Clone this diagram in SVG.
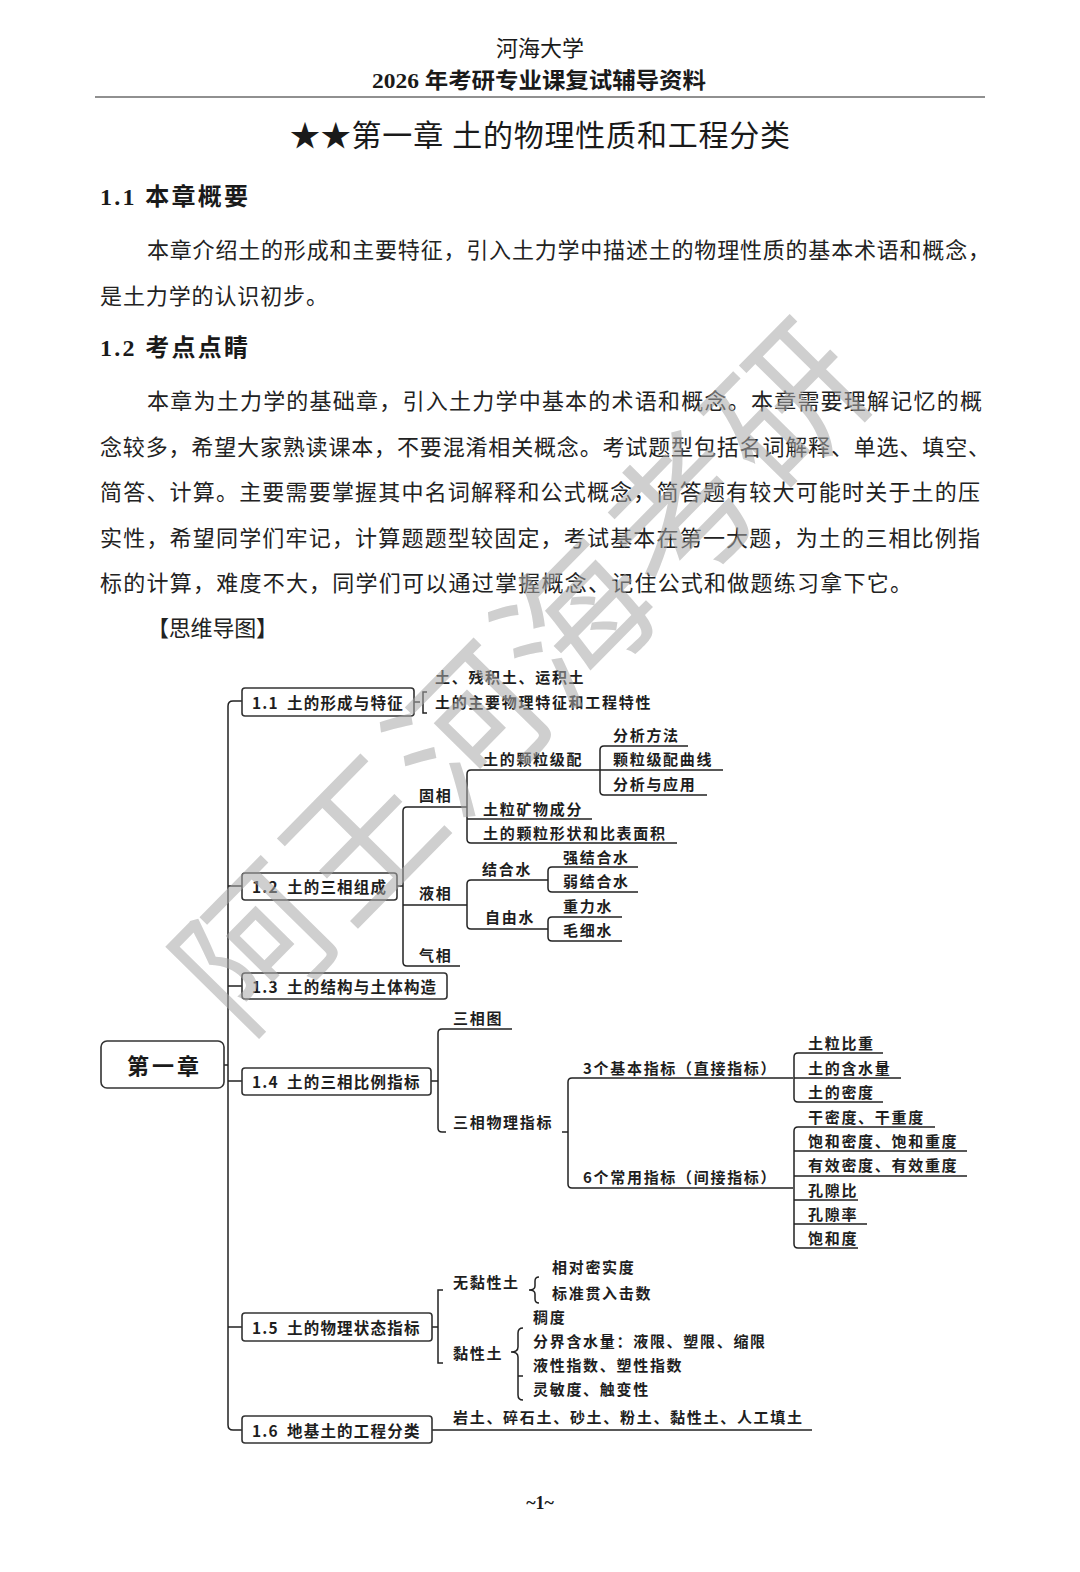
<svg xmlns="http://www.w3.org/2000/svg" width="1080" height="1572" viewBox="0 0 1080 1572">
<style>
text{dominant-baseline:central}
.hd{font-family:"Liberation Serif","Noto Sans CJK SC",serif;fill:#1a1a1a}
.bd{font-family:"Liberation Serif","Noto Sans CJK SC",serif;font-size:22px;fill:#222}
.mm{font-family:"Noto Sans CJK SC",sans-serif;font-size:15px;letter-spacing:1.7px;font-weight:700;fill:#1e1e1e}
.bx{font-family:"Noto Sans CJK SC",sans-serif;font-size:15.5px;letter-spacing:1.2px;font-weight:700;fill:#1e1e1e}
.box{fill:#fff;stroke:#333;stroke-width:1.6}
.ln{fill:none;stroke:#222;stroke-width:1.5}
.wm{font-family:"Noto Sans CJK SC",sans-serif;font-size:150px;font-weight:400;fill:#a8a8a8;opacity:0.55}
</style>
<rect width="1080" height="1572" fill="#fff"/>
<g id="header">
<text class="hd" x="540" y="48" font-size="22" text-anchor="middle">河海大学</text>
<text class="hd" x="372" y="80" font-size="22" font-weight="700" textLength="334" lengthAdjust="spacingAndGlyphs">2026 年考研专业课复试辅导资料</text>
<line x1="95" y1="97" x2="985" y2="97" stroke="#222" stroke-width="1.2"/>
<text class="hd" x="290" y="135" font-size="30" textLength="500">★★第一章  土的物理性质和工程分类</text>
</g>
<g id="section1">
<text class="hd" x="100" y="197" font-size="24" font-weight="700" textLength="148">1.1 本章概要</text>
<text class="bd" x="147" y="250" textLength="843">本章介绍土的形成和主要特征，引入土力学中描述土的物理性质的基本术语和概念，</text>
<text class="bd" x="100" y="296" textLength="228">是土力学的认识初步。</text>
</g>
<g id="section2">
<text class="hd" x="100" y="348" font-size="24" font-weight="700" textLength="148">1.2 考点点睛</text>
<text class="bd" x="147" y="401" textLength="835">本章为土力学的基础章，引入土力学中基本的术语和概念。本章需要理解记忆的概</text>
<text class="bd" x="100" y="447" textLength="890">念较多，希望大家熟读课本，不要混淆相关概念。考试题型包括名词解释、单选、填空、</text>
<text class="bd" x="100" y="492" textLength="880">简答、计算。主要需要掌握其中名词解释和公式概念，简答题有较大可能时关于土的压</text>
<text class="bd" x="100" y="538" textLength="880">实性，希望同学们牢记，计算题题型较固定，考试基本在第一大题，为土的三相比例指</text>
<text class="bd" x="100" y="583" textLength="812">标的计算，难度不大，同学们可以通过掌握概念、记住公式和做题练习拿下它。</text>
<text class="bd" x="147" y="628" font-size="21" textLength="131">【思维导图】</text>
</g>

<g id="connectors">
<path class="ln" d="M224,1065 H228"/>
<path class="ln" d="M242,701 H233 Q228,701 228,706 V1425 Q228,1430 233,1430 H242"/>
<path class="ln" d="M228,886 H242 M228,986 H242 M228,1081 H242 M228,1327 H242"/>
<path class="ln" d="M414,702 H420 M427,692 H423 V713 H427"/>
<path class="ln" d="M397,886 H403"/>
<path class="ln" d="M467,807 H407 Q403,807 403,811 V962 Q403,966 407,966 H460 M403,905 H467"/>
<path class="ln" d="M600,770 H471 Q467,770 467,774 V839 Q467,843 471,843 H677 M467,819 H592"/>
<path class="ln" d="M688,746 H604 Q600,746 600,750 V791 Q600,795 604,795 H707 M600,770 H723"/>
<path class="ln" d="M548,880 H471 Q467,880 467,884 V925 Q467,929 471,929 H548"/>
<path class="ln" d="M638,867 H552 Q548,867 548,871 V888 Q548,892 552,892 H638"/>
<path class="ln" d="M622,917 H552 Q548,917 548,921 V937 Q548,941 552,941 H622"/>
<path class="ln" d="M431,1081 H438"/>
<path class="ln" d="M512,1029 H442 Q438,1029 438,1033 V1128 Q438,1132 442,1132 H446 M562,1132 H568"/>
<path class="ln" d="M793,1078 H572 Q568,1078 568,1082 V1184 Q568,1188 572,1188 H793"/>
<path class="ln" d="M883,1053 H798 Q794,1053 794,1057 V1098 Q794,1102 798,1102 H883 M794,1078 H901"/>
<path class="ln" d="M935,1127 H798 Q794,1127 794,1131 V1244 Q794,1248 798,1248 H858 M794,1151 H967 M794,1176 H967 M794,1200 H858 M794,1224 H867"/>
<path class="ln" d="M432,1327 H438 M443,1290 H438 V1363 H443"/>
<path class="ln" d="M539,1277 Q535,1277 535,1281 V1286 Q535,1290 529,1290 Q535,1290 535,1294 V1299 Q535,1303 539,1303"/>
<path class="ln" d="M523,1328 Q518,1328 518,1333 V1347 Q518,1352 511,1352 Q518,1352 518,1357 V1395 Q518,1400 523,1400 M518,1376 H523"/>
<path class="ln" d="M432,1430 H812"/>
</g>

<g id="n-root">
<rect class="box" x="101" y="1041" width="123" height="47" rx="6"/>
<text x="127" y="1064" font-family="Noto Sans CJK SC,sans-serif" font-size="22" font-weight="700" letter-spacing="3" fill="#1a1a1a">第一章</text>
</g>
<g id="n-1-1">
<rect class="box" x="242" y="688" width="172" height="28" rx="3"/>
<text class="bx" y="702"><tspan x="252">1.1</tspan><tspan x="287">土的形成与特征</tspan></text>
</g>
<g id="n-1-2">
<rect class="box" x="242" y="873" width="155" height="27" rx="3"/>
<text class="bx" y="886"><tspan x="252">1.2</tspan><tspan x="287">土的三相组成</tspan></text>
</g>
<g id="n-1-3">
<rect class="box" x="242" y="973" width="205" height="26" rx="3"/>
<text class="bx" y="986"><tspan x="252">1.3</tspan><tspan x="287">土的结构与土体构造</tspan></text>
</g>
<g id="n-1-4">
<rect class="box" x="242" y="1068" width="189" height="27" rx="3"/>
<text class="bx" y="1081"><tspan x="252">1.4</tspan><tspan x="287">土的三相比例指标</tspan></text>
</g>
<g id="n-1-5">
<rect class="box" x="242" y="1313" width="190" height="28" rx="3"/>
<text class="bx" y="1327"><tspan x="252">1.5</tspan><tspan x="287">土的物理状态指标</tspan></text>
</g>
<g id="n-1-6">
<rect class="box" x="242" y="1416" width="190" height="27" rx="3"/>
<text class="bx" y="1430"><tspan x="252">1.6</tspan><tspan x="287">地基土的工程分类</tspan></text>
</g>

<g id="n-1-1-a"><text class="mm" x="435" y="676">土、残积土、运积土</text></g>
<g id="n-1-1-b"><text class="mm" x="435" y="701">土的主要物理特征和工程特性</text></g>
<g id="n-guxiang"><text class="mm" x="419" y="794">固相</text></g>
<g id="n-jipei"><text class="mm" x="483" y="758">土的颗粒级配</text></g>
<g id="n-fenxi"><text class="mm" x="613" y="734">分析方法</text></g>
<g id="n-quxian"><text class="mm" x="613" y="758">颗粒级配曲线</text></g>
<g id="n-yingyong"><text class="mm" x="613" y="783">分析与应用</text></g>
<g id="n-kuangwu"><text class="mm" x="483" y="808">土粒矿物成分</text></g>
<g id="n-xingzhuang"><text class="mm" x="483" y="832">土的颗粒形状和比表面积</text></g>
<g id="n-yexiang"><text class="mm" x="419" y="892">液相</text></g>
<g id="n-jiehe"><text class="mm" x="482" y="868">结合水</text></g>
<g id="n-ziyou"><text class="mm" x="485" y="916">自由水</text></g>
<g id="n-qiang"><text class="mm" x="563" y="856">强结合水</text></g>
<g id="n-ruo"><text class="mm" x="563" y="880">弱结合水</text></g>
<g id="n-zhongli"><text class="mm" x="563" y="905">重力水</text></g>
<g id="n-maoxi"><text class="mm" x="563" y="929">毛细水</text></g>
<g id="n-qixiang"><text class="mm" x="419" y="954">气相</text></g>
<g id="n-sanxiangtu"><text class="mm" x="453" y="1017">三相图</text></g>
<g id="n-wuli"><text class="mm" x="453" y="1121">三相物理指标</text></g>
<g id="n-jiben"><text class="mm" x="583" y="1067">3个基本指标（直接指标）</text></g>
<g id="n-changyong"><text class="mm" x="583" y="1176">6个常用指标（间接指标）</text></g>
<g id="n-bizhong"><text class="mm" x="808" y="1042">土粒比重</text></g>
<g id="n-hanshui"><text class="mm" x="808" y="1067">土的含水量</text></g>
<g id="n-midu"><text class="mm" x="808" y="1091">土的密度</text></g>
<g id="n-gan"><text class="mm" x="808" y="1116">干密度、干重度</text></g>
<g id="n-baohe"><text class="mm" x="808" y="1140">饱和密度、饱和重度</text></g>
<g id="n-youxiao"><text class="mm" x="808" y="1164">有效密度、有效重度</text></g>
<g id="n-kongxibi"><text class="mm" x="808" y="1189">孔隙比</text></g>
<g id="n-kongxilv"><text class="mm" x="808" y="1213">孔隙率</text></g>
<g id="n-baohedu"><text class="mm" x="808" y="1237">饱和度</text></g>
<g id="n-wunian"><text class="mm" x="453" y="1281">无黏性土</text></g>
<g id="n-mishi"><text class="mm" x="552" y="1266">相对密实度</text></g>
<g id="n-guanru"><text class="mm" x="552" y="1292">标准贯入击数</text></g>
<g id="n-nian"><text class="mm" x="453" y="1352">黏性土</text></g>
<g id="n-chou"><text class="mm" x="533" y="1316">稠度</text></g>
<g id="n-fenjie"><text class="mm" x="533" y="1340">分界含水量：液限、塑限、缩限</text></g>
<g id="n-zhishu"><text class="mm" x="533" y="1364">液性指数、塑性指数</text></g>
<g id="n-lingmin"><text class="mm" x="533" y="1388">灵敏度、触变性</text></g>
<g id="n-fenlei"><text class="mm" x="453" y="1416">岩土、碎石土、砂土、粉土、黏性土、人工填土</text></g>

<g id="watermark">
<text class="wm" x="0" y="0" text-anchor="middle" transform="translate(515,668) rotate(-45.5)" letter-spacing="2">阿王河海考研</text>
</g>
<g id="footer">
<text class="hd" x="540" y="1503" font-size="18" font-weight="700" text-anchor="middle">~1~</text>
</g>
</svg>
